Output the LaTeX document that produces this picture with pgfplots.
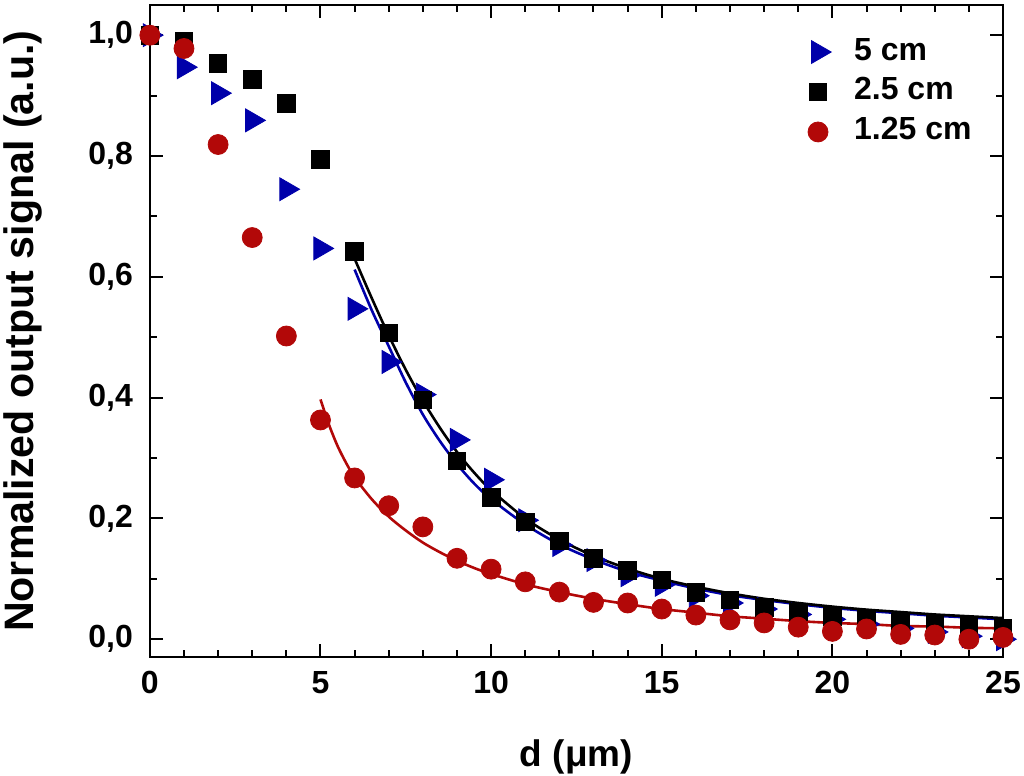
\documentclass[border=0pt]{standalone}
\usepackage{fontspec}
\setmainfont{Liberation Sans}
\usepackage{pgfplots}
\pgfplotsset{compat=1.18}
\definecolor{myblue}{RGB}{0,0,170}
\definecolor{myred}{RGB}{178,8,8}
\begin{document}
\begin{tikzpicture}
\begin{axis}[
  at={(0,0)}, anchor=south west,
  scale only axis, width=427pt, height=326.5pt,
  xmin=0, xmax=25, ymin=-0.03, ymax=1.05,
  axis line style={line width=1pt},
  xtick={0,5,10,15,20,25}, minor x tick num=4,
  ytick={0,0.2,0.4,0.6,0.8,1.0}, minor y tick num=1,
  tick align=inside, major tick length=6.5pt, minor tick length=3.5pt,
  every tick/.style={black, line width=1pt},
  tick label style={font=\fontsize{16}{19}\selectfont\bfseries},
  xticklabel style={yshift=-3.5pt},
  /pgf/number format/assume math mode=true,
  yticklabel style={xshift=-5pt, /pgf/number format/.cd, use comma, fixed, fixed zerofill, precision=1},
  xlabel={d (μm)}, ylabel={Normalized output signal (a.u.)},
  xlabel style={font=\fontsize{18.5}{22}\selectfont\bfseries, at={(axis description cs:0.5,-0.126)}, anchor=north, inner sep=0pt},
  ylabel style={font=\fontsize{20.6}{24}\selectfont\bfseries, at={(axis description cs:-0.172,0.5)}, anchor=north, inner sep=0pt},
  legend style={draw=none, fill=none, at={(axis description cs:0.771,0.953)}, anchor=north west,
    font=\fontsize{16}{19}\selectfont\bfseries, inner sep=0pt, row sep=4pt,
    nodes={inner ysep=1pt, text height=11pt, text depth=3pt},
    /tikz/every odd column/.append style={column sep=9.5pt}},
  legend cell align=left,
]
% 5 cm
\addplot[only marks, mark=triangle*, mark size=6.6pt, color=myblue, mark options={rotate=-90, fill=myblue, draw=myblue}] coordinates {
(0,1.0) (1,0.947) (2,0.904) (3,0.859) (4,0.745) (5,0.647) (6,0.547) (7,0.459) (8,0.405) (9,0.330)
(10,0.264) (11,0.197) (12,0.156) (13,0.131) (14,0.106) (15,0.090) (16,0.072) (17,0.060) (18,0.050)
(19,0.041) (20,0.033) (21,0.025) (22,0.018) (23,0.012) (24,0.005) (25,0.000)};
\addlegendentry{5 cm}
% 2.5 cm
\addplot[only marks, mark=square*, mark size=4.4pt, color=black] coordinates {
(0,1.0) (1,0.990) (2,0.953) (3,0.927) (4,0.887) (5,0.794) (6,0.642) (7,0.507) (8,0.396) (9,0.295)
(10,0.235) (11,0.194) (12,0.163) (13,0.134) (14,0.114) (15,0.098) (16,0.078) (17,0.065) (18,0.053)
(19,0.045) (20,0.038) (21,0.033) (22,0.028) (23,0.025) (24,0.022) (25,0.018)};
\addlegendentry{2.5 cm}
% 1.25 cm
\addplot[only marks, mark=*, mark size=5pt, color=myred, mark options={fill=myred, draw=myred}] coordinates {
(0,1.0) (1,0.978) (2,0.819) (3,0.665) (4,0.502) (5,0.363) (6,0.267) (7,0.221) (8,0.186) (9,0.134)
(10,0.116) (11,0.095) (12,0.078) (13,0.061) (14,0.060) (15,0.050) (16,0.040) (17,0.032) (18,0.027)
(19,0.020) (20,0.013) (21,0.017) (22,0.008) (23,0.007) (24,0.000) (25,0.003)};
\addlegendentry{1.25 cm}
% fits
\addplot[myblue, line width=1.3pt, smooth, no marks, forget plot] coordinates {
(6,0.612) (6.5,0.545) (7,0.485) (7.5,0.425) (8,0.372) (8.5,0.328) (9,0.290) (9.5,0.258) (10,0.232)
(11,0.190) (12,0.157) (13,0.132) (14,0.112) (15,0.097) (16,0.084) (17,0.073) (18,0.065) (19,0.058)
(20,0.052) (21,0.047) (22,0.043) (23,0.039) (24,0.036) (25,0.033)};
\addplot[black, line width=1.3pt, smooth, no marks, forget plot] coordinates {
(6,0.630) (6.5,0.565) (7,0.503) (7.5,0.446) (8,0.395) (8.5,0.350) (9,0.310) (9.5,0.276) (10,0.247)
(11,0.200) (12,0.165) (13,0.138) (14,0.117) (15,0.100) (16,0.087) (17,0.076) (18,0.067) (19,0.060)
(20,0.054) (21,0.049) (22,0.045) (23,0.041) (24,0.038) (25,0.035)};
\addplot[myred, line width=1.3pt, smooth, no marks, forget plot] coordinates {
(5,0.397) (5.25,0.355) (5.5,0.320) (5.75,0.292) (6,0.268) (6.5,0.232) (7,0.203) (7.5,0.180) (8,0.160)
(8.5,0.144) (9,0.130) (9.5,0.118) (10,0.108) (11,0.091) (12,0.078) (13,0.067) (14,0.058) (15,0.050)
(16,0.044) (17,0.038) (18,0.034) (19,0.030) (20,0.027) (21,0.025) (22,0.022) (23,0.021) (24,0.019) (25,0.018)};
\end{axis}
\pgfresetboundingbox
\path (-75pt,-59pt) rectangle (437.5pt,329pt);
\end{tikzpicture}
\end{document}
